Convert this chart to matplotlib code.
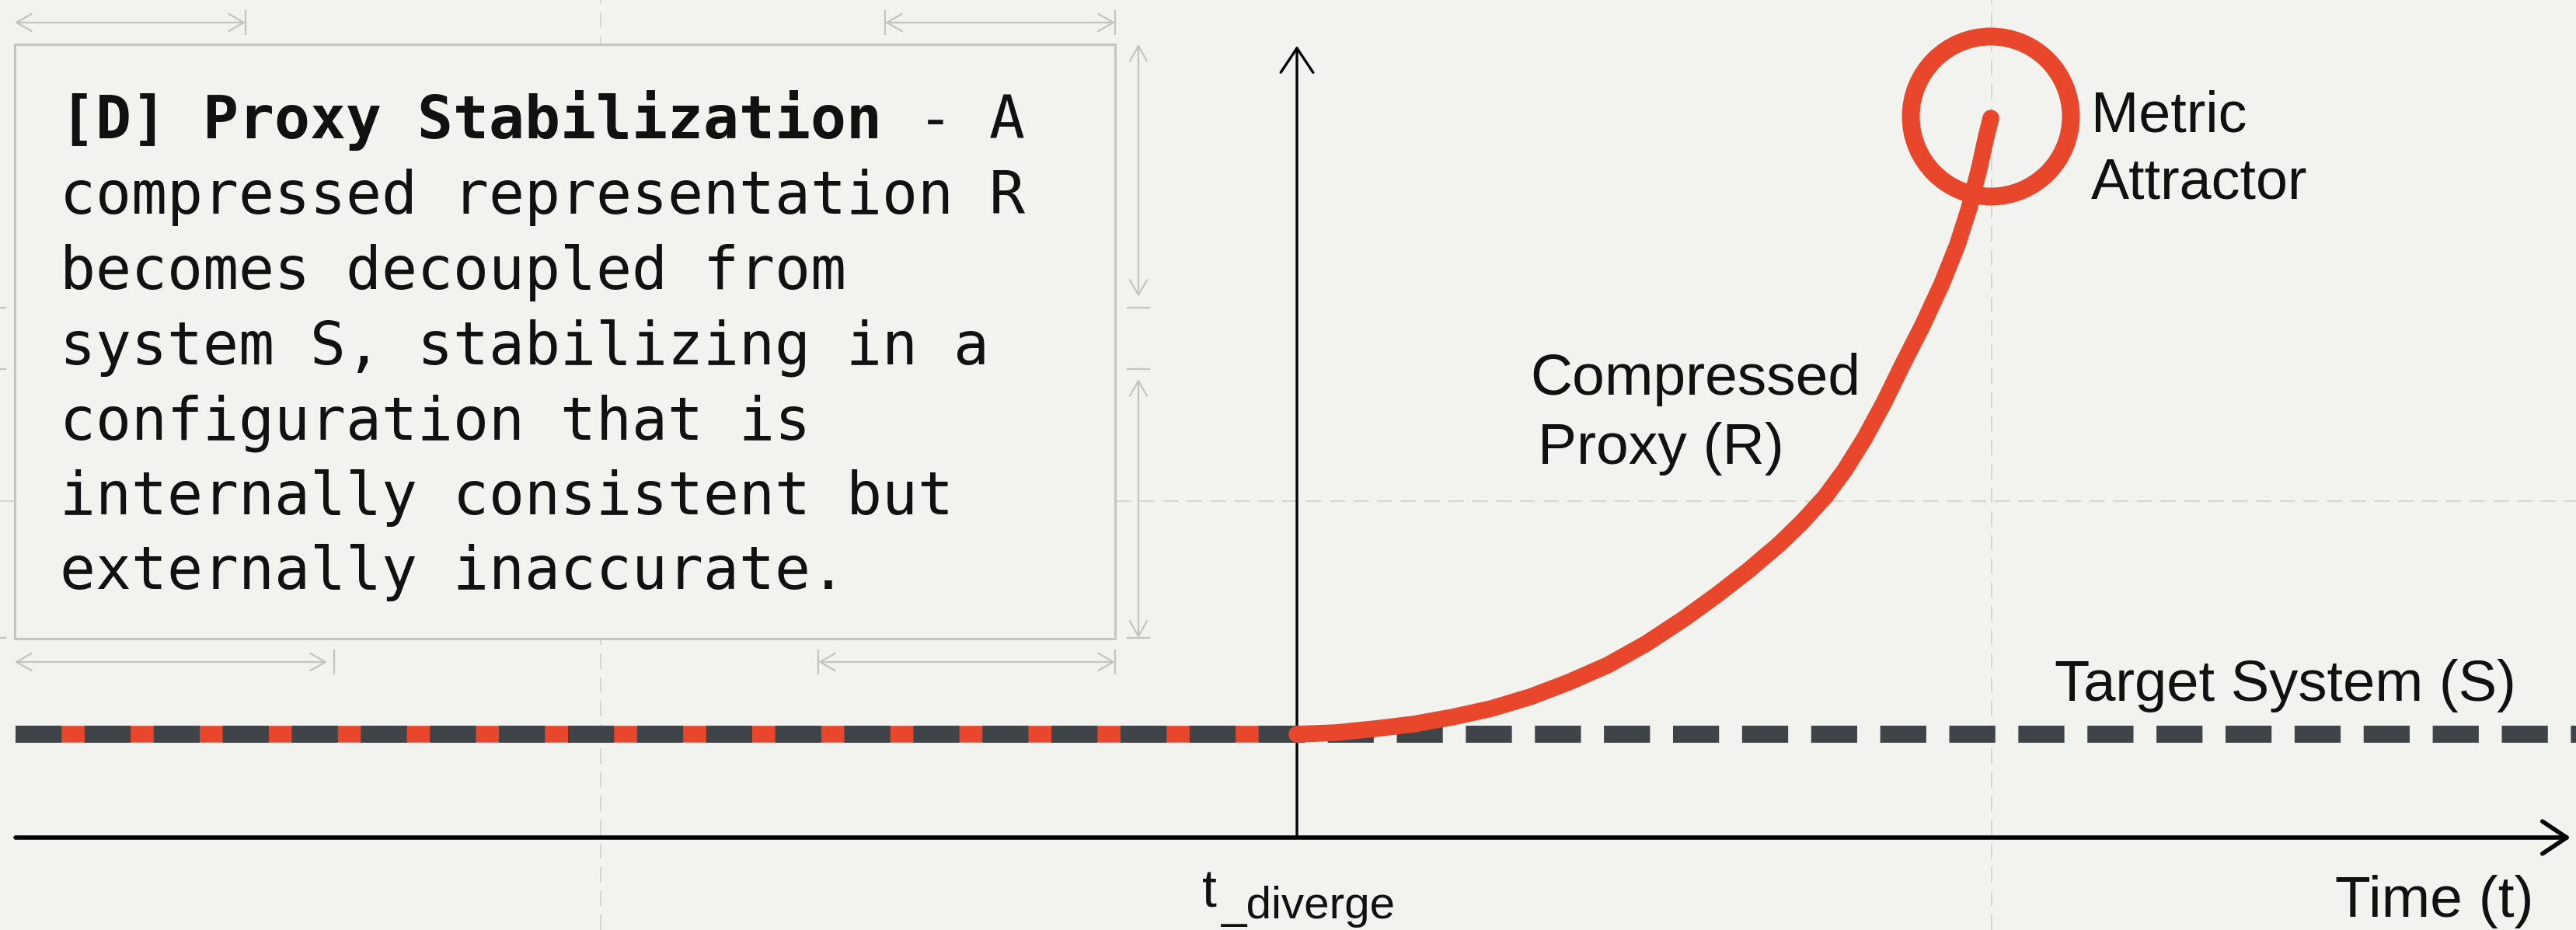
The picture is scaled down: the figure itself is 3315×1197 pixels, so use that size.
import matplotlib.pyplot as plt
from matplotlib.patches import Rectangle, Circle

# --- data (time units, t_diverge = 0) ---
target_t = [-16.49, 16.46]
target_v = [1.33, 1.33]

proxy_t = [-16.49, 0.0, 0.5, 1.0, 1.5, 2.0, 2.5, 3.0, 3.5, 4.0, 4.5, 5.0, 5.4, 5.8, 6.2,
           6.5, 6.8, 7.05, 7.3, 7.55, 7.8, 8.05, 8.3, 8.5, 8.65, 8.78, 8.87, 8.93]
proxy_v = [1.33, 1.33, 1.35, 1.40, 1.46, 1.55, 1.66, 1.81, 2.00, 2.22, 2.50, 2.83, 3.12, 3.43, 3.77,
           4.06, 4.39, 4.73, 5.13, 5.59, 6.10, 6.59, 7.13, 7.63, 8.10, 8.61, 9.02, 9.26]

attractor_t = 8.93
attractor_v = 9.28
attractor_r = 1.03

grid_t = [-8.96, 8.94]
grid_v = [4.33]

box_lines = [
    "compressed representation R",
    "becomes decoupled from",
    "system S, stabilizing in a",
    "configuration that is",
    "internally consistent but",
    "externally inaccurate.",
]
box_title = "[D] Proxy Stabilization"
box_title_rest = " - A"

BG = "#f2f3ee"
RED = "#e8472c"
DARK = "#3e4447"
LIGHT = "#c4c4c0"
GRID = "#cdcdc9"

fig = plt.figure(figsize=(33.15, 11.97), dpi=100, facecolor=BG)
ax = fig.add_axes([0, 0, 1, 1])
ax.set_facecolor(BG)
ax.set_xlim(-16.69, 16.46)
ax.set_ylim(-1.19, 10.78)
ax.axis("off")

# grid
for gt in grid_t:
    ax.axvline(gt, color=GRID, lw=1.1, dashes=(13, 7), zorder=0)
for gv in grid_v:
    ax.axhline(gv, color=GRID, lw=1.1, dashes=(13, 7), zorder=0)

# text box
ax.add_patch(Rectangle((-16.50, 2.56), 14.16, 7.65, facecolor=BG, edgecolor=LIGHT, lw=2.2, zorder=1))
mono = "DejaVu Sans Mono"
fs = 55
tx = -15.92
char_w = 0.602 * fs / 72  # advance of one mono char, in data units (100 px each)
ax.text(tx, 9.00, box_title, family=mono, fontsize=fs, fontweight="bold", color="#111111", va="baseline", zorder=5)
ax.text(tx + len(box_title) * char_w, 9.00, box_title_rest, family=mono, fontsize=fs, color="#111111",
        va="baseline", zorder=5)
for i, line in enumerate(box_lines):
    ax.text(tx, 8.03 - 0.967 * i, line, family=mono, fontsize=fs, color="#111111", va="baseline", zorder=5)


# dimension marks around the box
def dim(xy0, xy1, bar0=False, bar1=False):
    ax.annotate("", xy=xy1, xytext=xy0, zorder=1,
                arrowprops=dict(arrowstyle="<->,head_length=0.35,head_width=0.2", color=LIGHT, lw=1.6,
                                mutation_scale=40, shrinkA=0, shrinkB=0))
    horiz = xy0[1] == xy1[1]
    for flag, p in ((bar0, xy0), (bar1, xy1)):
        if flag:
            if horiz:
                ax.plot([p[0], p[0]], [p[1] - 0.15, p[1] + 0.15], color=LIGHT, lw=1.6, zorder=1)
            else:
                ax.plot([p[0] - 0.14, p[0] + 0.14], [p[1], p[1]], color=LIGHT, lw=1.6, zorder=1)


dim((-16.50, 10.49), (-13.53, 10.49), bar1=True)
dim((-5.30, 10.49), (-2.34, 10.49), bar0=True, bar1=True)
dim((-16.50, 2.26), (-12.48, 2.26))
ax.plot([-12.39, -12.39], [2.11, 2.41], color=LIGHT, lw=1.6, zorder=1)
dim((-6.16, 2.26), (-2.34, 2.26), bar0=True, bar1=True)
for xv in (-2.04, -16.76):
    dim((xv, 10.21), (xv, 6.96))
    ax.plot([xv - 0.14, xv + 0.14], [6.82, 6.82], color=LIGHT, lw=1.6, zorder=1)
    ax.plot([xv - 0.14, xv + 0.14], [6.03, 6.03], color=LIGHT, lw=1.6, zorder=1)
    dim((xv, 5.90), (xv, 2.57), bar1=True)

# axes with arrows
ax.annotate("", xy=(16.39, 0), xytext=(-16.49, 0), zorder=3,
            arrowprops=dict(arrowstyle="->,head_length=0.45,head_width=0.3", color="black", lw=4,
                            mutation_scale=50, shrinkA=0, shrinkB=0))
ax.annotate("", xy=(0, 10.19), xytext=(0, 0), zorder=3,
            arrowprops=dict(arrowstyle="->,head_length=0.45,head_width=0.3", color="black", lw=2.4,
                            mutation_scale=50, shrinkA=0, shrinkB=0))

# series
ax.plot(proxy_t[:2], proxy_v[:2], color=RED, lw=15.5, solid_capstyle="butt", zorder=2)
tl, = ax.plot(target_t, target_v, color=DARK, lw=15.8, zorder=3)
tl.set_dashes([2.7, 1.35])
ax.plot(proxy_t[1:], proxy_v[1:], color=RED, lw=15.5, solid_capstyle="round",
        solid_joinstyle="round", zorder=4)
ax.add_patch(Circle((attractor_t, attractor_v), attractor_r, fill=False, edgecolor=RED, lw=16.5, zorder=4))

# labels
sans = "Liberation Sans"
ax.text(10.22, 9.08, "Metric", family=sans, fontsize=53, va="baseline", color="#111111")
ax.text(10.22, 8.22, "Attractor", family=sans, fontsize=53, va="baseline", color="#111111")
ax.text(3.0, 5.70, "Compressed", family=sans, fontsize=54, va="baseline", color="#111111")
ax.text(3.1, 4.81, "Proxy (R)", family=sans, fontsize=54, va="baseline", color="#111111")
ax.text(9.75, 1.76, "Target System (S)", family=sans, fontsize=53.5, va="baseline", color="#111111")
ax.text(13.36, -1.02, "Time (t)", family=sans, fontsize=54, va="baseline", color="#111111")
ax.text(-1.22, -0.90, "t", family=sans, fontsize=49, va="baseline", color="#111111")
ax.text(-0.97, -1.04, "_diverge", family=sans, fontsize=42, va="baseline", color="#111111")

fig.savefig("out.png", dpi=100, facecolor=BG)
